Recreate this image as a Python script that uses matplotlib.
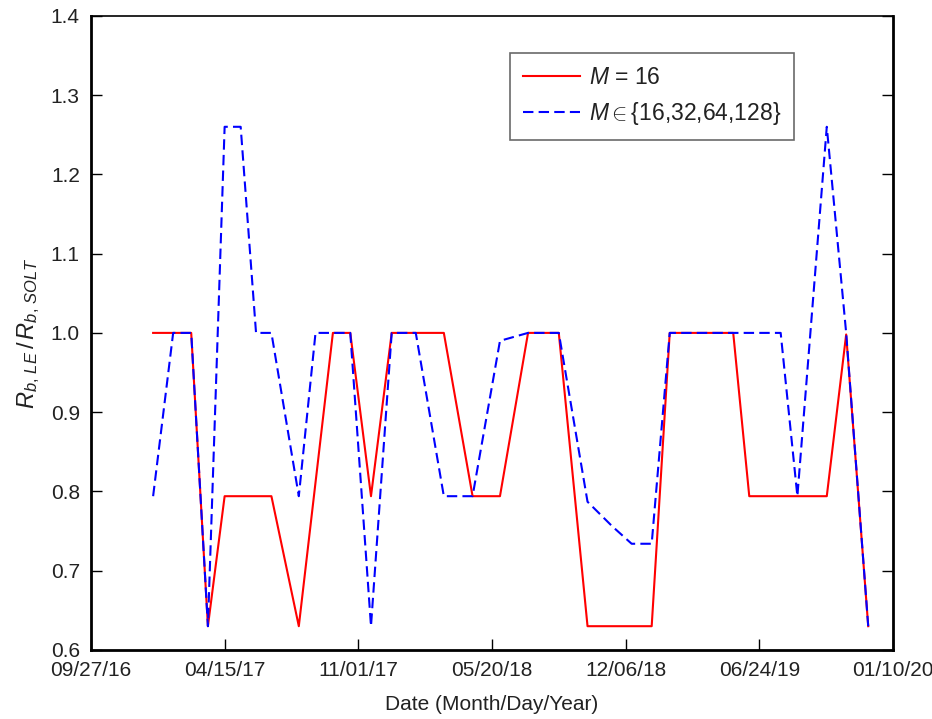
import pandas as pd
import matplotlib
matplotlib.use("Agg")
import matplotlib.pyplot as plt
import matplotlib.dates as mdates

plt.rcParams['font.family'] = ['Liberation Sans', 'DejaVu Sans']
plt.rcParams['mathtext.fontset'] = 'custom'
plt.rcParams['mathtext.rm'] = 'Liberation Sans'
plt.rcParams['mathtext.it'] = 'Liberation Sans:italic'

# M = 16
dates_16 = ["2016-12-29", "2017-02-24", "2017-03-21", "2017-04-15", "2017-06-24",
            "2017-08-04", "2017-09-24", "2017-10-20", "2017-11-20", "2017-12-21",
            "2018-03-09", "2018-04-21", "2018-06-01", "2018-07-13", "2018-08-28",
            "2018-10-10", "2019-01-14", "2019-02-10", "2019-05-16", "2019-06-09",
            "2019-10-03", "2019-11-01", "2019-12-04"]
ratio_16 = [1.0, 1.0, 0.63, 0.794, 0.794,
            0.63, 1.0, 1.0, 0.794, 1.0,
            1.0, 0.794, 0.794, 1.0, 1.0,
            0.63, 0.63, 1.0, 1.0, 0.794,
            0.794, 0.998, 0.63]

# M in {16,32,64,128}
dates_all = ["2016-12-29", "2017-01-28", "2017-02-24", "2017-03-21", "2017-04-15",
             "2017-05-09", "2017-06-01", "2017-06-24", "2017-08-04", "2017-08-29",
             "2017-10-20", "2017-11-20", "2017-12-21", "2018-01-26", "2018-03-09",
             "2018-04-21", "2018-06-01", "2018-07-13", "2018-08-28", "2018-10-10",
             "2018-11-16", "2018-12-15", "2019-01-14", "2019-02-10", "2019-07-26",
             "2019-08-20", "2019-10-03", "2019-11-01", "2019-12-04"]
ratio_all = [0.794, 1.0, 1.0, 0.63, 1.26,
             1.26, 1.0, 1.0, 0.794, 1.0,
             1.0, 0.63, 1.0, 1.0, 0.794,
             0.794, 0.99, 1.0, 1.0, 0.787,
             0.756, 0.734, 0.734, 1.0, 1.0,
             0.794, 1.26, 1.0, 0.63]

tick_dates = ["2016-09-27", "2017-04-15", "2017-11-01", "2018-05-20",
              "2018-12-06", "2019-06-24", "2020-01-10"]

fig = plt.figure(figsize=(9.32, 7.19), dpi=100)
ax = fig.add_axes([0.0976, 0.096, 0.8605, 0.882])

l1, = ax.plot(pd.to_datetime(dates_16), ratio_16, color='#ff0000', lw=1.5)
l2, = ax.plot(pd.to_datetime(dates_all), ratio_all, color='#0000ff', lw=1.5,
              ls='--', dashes=(5, 2.5))

ticks = pd.to_datetime(tick_dates)
ax.set_xlim(ticks[0], ticks[-1])
ax.set_xticks(ticks)
ax.xaxis.set_major_formatter(mdates.DateFormatter("%m/%d/%y"))
ax.set_ylim(0.6, 1.4)
ax.set_yticks([0.6, 0.7, 0.8, 0.9, 1.0, 1.1, 1.2, 1.3, 1.4])
ax.set_yticklabels(["0.6", "0.7", "0.8", "0.9", "1.0", "1.1", "1.2", "1.3", "1.4"])

ax.tick_params(direction='in', length=8, width=1, labelsize=15,
               labelcolor='#222222', right=True)
ax.tick_params(axis='x', pad=8)
ax.tick_params(axis='y', pad=8)
for s in ['left', 'bottom', 'right']:
    ax.spines[s].set_linewidth(2)
ax.spines['top'].set_linewidth(1.2)

ax.set_xlabel("Date (Month/Day/Year)", fontsize=15, color='#222222', labelpad=11)
ax.set_ylabel(r"$R_{b,\,LE}\,/\,R_{b,\,SOLT}$", fontsize=17, color='#222222', labelpad=6)

leg = ax.legend([l1, l2], [r"$M$ = 16", r"$M\in${16,32,64,128}"],
                loc='upper left', bbox_to_anchor=(0.5225, 0.941), fontsize=16.5,
                frameon=True, fancybox=False, edgecolor='#444444',
                handlelength=2.5, handletextpad=0.4, borderpad=0.55,
                labelspacing=0.5, borderaxespad=0)
leg.get_frame().set_linewidth(1.2)
for t in leg.get_texts():
    t.set_color('#222222')

fig.savefig("out.png", dpi=100)
